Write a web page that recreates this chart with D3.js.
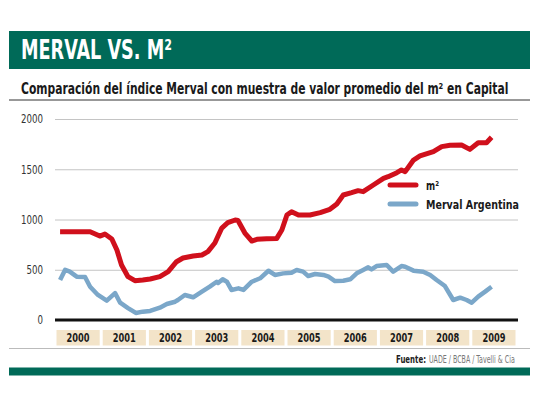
<!DOCTYPE html>
<html lang="es">
<head>
    <meta charset="UTF-8">
    <title>Merval vs. m2</title>
    <style>
        body { margin: 0; background: #fff; }
        text { font-family: "DejaVu Sans Condensed", "DejaVu Sans", "Liberation Sans", sans-serif; font-stretch: condensed; }
    </style>
</head>
<body>
<svg></svg>
<script src="https://d3js.org/d3.v7.min.js"></script>
<script>
    // datos (fecha en año decimal)
    var m2Fechas = [2000.11, 2000.76, 2000.97, 2001.08, 2001.23, 2001.34, 2001.44, 2001.58, 2001.73, 2001.90,
        2002.06, 2002.27, 2002.45, 2002.63, 2002.77, 2002.99, 2003.18, 2003.31, 2003.46, 2003.61,
        2003.74, 2003.90, 2003.96, 2004.11, 2004.26, 2004.37, 2004.58, 2004.80, 2004.91, 2005.02,
        2005.12, 2005.27, 2005.52, 2005.74, 2005.95, 2006.10, 2006.24, 2006.42, 2006.56, 2006.67,
        2006.89, 2007.11, 2007.21, 2007.40, 2007.50, 2007.58, 2007.76, 2007.90, 2008.19, 2008.37,
        2008.55, 2008.80, 2008.98, 2009.16, 2009.34, 2009.45];
    var m2Valores = [879, 879, 835, 855, 806, 697, 547, 431, 391, 398,
        408, 431, 481, 580, 617, 637, 647, 680, 766, 915,
        968, 995, 990, 865, 786, 803, 809, 812, 895, 1045,
        1078, 1045, 1045, 1068, 1101, 1154, 1244, 1267, 1287, 1277,
        1343, 1410, 1426, 1466, 1493, 1476, 1592, 1632, 1675, 1725,
        1738, 1741, 1698, 1764, 1764, 1818];

    var mervalFechas = [2000.11, 2000.22, 2000.32, 2000.47, 2000.65, 2000.76, 2000.93, 2001.12, 2001.30, 2001.41,
        2001.58, 2001.75, 2001.90, 2002.06, 2002.27, 2002.42, 2002.60, 2002.66, 2002.81, 2002.99,
        2003.18, 2003.35, 2003.50, 2003.53, 2003.63, 2003.72, 2003.82, 2003.97, 2004.08, 2004.26,
        2004.44, 2004.62, 2004.76, 2004.94, 2005.12, 2005.23, 2005.37, 2005.48, 2005.63, 2005.81,
        2005.92, 2006.06, 2006.24, 2006.39, 2006.53, 2006.67, 2006.78, 2006.85, 2006.96, 2007.18,
        2007.32, 2007.50, 2007.58, 2007.76, 2007.97, 2008.12, 2008.26, 2008.44, 2008.62, 2008.77,
        2008.91, 2009.02, 2009.16, 2009.31, 2009.45];
    var mervalValores = [398, 500, 481, 431, 428, 331, 249, 192, 268, 172,
        119, 70, 83, 90, 123, 159, 182, 199, 249, 226,
        282, 332, 381, 368, 405, 381, 299, 315, 299, 381,
        415, 490, 448, 464, 471, 497, 481, 438, 458, 448,
        431, 388, 391, 405, 464, 497, 524, 504, 537, 547,
        481, 537, 530, 491, 481, 448, 398, 338, 199, 222,
        199, 172, 232, 282, 331];

    var anios = [2000, 2001, 2002, 2003, 2004, 2005, 2006, 2007, 2008, 2009];
    var yTicks = [0, 500, 1000, 1500, 2000];

    var width = 540;
    var height = 405;
    var plotLeft = 55, plotRight = 517, plotTop = 119, plotBottom = 320;

    var verde = "#006a58";
    var rojo = "#d0101c";
    var azul = "#7ba7c9";

    var xScale = d3.scaleLinear().domain([2000, 2010]).range([plotLeft, plotRight]);
    var yScale = d3.scaleLinear().domain([0, 2000]).range([plotBottom, plotTop]);

    var svg = d3.select("svg")
        .attr("width", width)
        .attr("height", height);

    // estrecha un texto a un ancho dado (la fuente del original es condensada)
    function ajustar(t, x, y, ancho) {
        var largo = t.node().getComputedTextLength();
        var sx = largo > 0 ? ancho / largo : 1;
        t.attr("transform", "translate(" + x + "," + y + ") scale(" + sx + ",1)");
        return t;
    }

    // cabecera
    svg.append("rect")
        .attr("x", 9).attr("y", 31)
        .attr("width", 521).attr("height", 38)
        .style("fill", verde);
    ajustar(svg.append("text")
        .style("font-size", "27px")
        .style("font-weight", "bold")
        .style("fill", "#fff")
        .text("MERVAL VS. M²"), 21, 58.5, 151);

    ajustar(svg.append("text")
        .style("font-size", "15.5px")
        .style("font-weight", "bold")
        .style("fill", "#1a1a1a")
        .text("Comparación del índice Merval con muestra de valor promedio del m² en Capital"), 21, 94, 488);

    svg.append("line")
        .attr("x1", 9).attr("x2", 530)
        .attr("y1", 100).attr("y2", 100)
        .style("stroke", "#333").style("stroke-width", 1);

    // eje y y grilla
    var yAxis = d3.axisLeft(yScale)
        .tickValues(yTicks)
        .tickFormat(d3.format("d"))
        .tickSize(-(plotRight + 1 - plotLeft))
        .tickPadding(12);
    var gy = svg.append("g")
        .attr("transform", "translate(" + plotLeft + ",0)")
        .call(yAxis);
    gy.select(".domain").remove();
    gy.selectAll(".tick line")
        .style("stroke", "#c4c4c4")
        .style("stroke-width", 1);
    gy.selectAll(".tick text")
        .attr("textLength", function (d) { return String(d).length * 5.5; })
        .attr("lengthAdjust", "spacingAndGlyphs")
        .style("font-family", "'DejaVu Sans Condensed', 'DejaVu Sans', sans-serif")
        .style("font-size", "12px")
        .style("fill", "#333");

    // lineas
    var line = d3.line()
        .x(function (d) { return xScale(d[0]); })
        .y(function (d) { return yScale(d[1]); });

    var mervalDatos = d3.zip(mervalFechas, mervalValores);
    var m2Datos = d3.zip(m2Fechas, m2Valores);

    svg.append("path")
        .datum(mervalDatos)
        .attr("d", line)
        .style("fill", "none")
        .style("stroke", azul)
        .style("stroke-width", 4.5)
        .style("stroke-linejoin", "round");

    svg.append("path")
        .datum(m2Datos)
        .attr("d", line)
        .style("fill", "none")
        .style("stroke", rojo)
        .style("stroke-width", 5)
        .style("stroke-linejoin", "round");

    // linea base
    svg.append("line")
        .attr("x1", plotLeft).attr("x2", plotRight + 1)
        .attr("y1", yScale(0)).attr("y2", yScale(0))
        .style("stroke", "#111").style("stroke-width", 3);

    // cajas de años
    var gx = svg.append("g");
    gx.selectAll("rect")
        .data(anios)
        .enter().append("rect")
        .attr("x", function (d) { return xScale(d) + 1.5; })
        .attr("y", 330)
        .attr("width", function (d) { return xScale(d + 1) - xScale(d) - 3; })
        .attr("height", 15.5)
        .style("fill", "#f3e4c9");
    gx.selectAll("text")
        .data(anios)
        .enter().append("text")
        .attr("x", function (d) { return xScale(d + 0.5) - 11.5; })
        .attr("y", 342)
        .attr("textLength", 23)
        .attr("lengthAdjust", "spacingAndGlyphs")
        .style("font-size", "13px")
        .style("font-weight", "bold")
        .style("fill", "#1a1a1a")
        .text(function (d) { return d; });

    // leyenda
    var leyenda = [
        {nombre: "m²", color: rojo, y: 185, ancho: 13},
        {nombre: "Merval Argentina", color: azul, y: 204, ancho: 93}
    ];
    var gl = svg.append("g");
    leyenda.forEach(function (l) {
        gl.append("line")
            .attr("x1", 390).attr("x2", 416)
            .attr("y1", l.y).attr("y2", l.y)
            .style("stroke", l.color)
            .style("stroke-width", 5)
            .style("stroke-linecap", "round");
        ajustar(gl.append("text")
            .style("font-size", "13px")
            .style("font-weight", "bold")
            .style("fill", "#1a1a1a")
            .text(l.nombre), 426, l.y + 4.5, l.ancho);
    });

    // pie
    svg.append("line")
        .attr("x1", 9).attr("x2", 530)
        .attr("y1", 348.5).attr("y2", 348.5)
        .style("stroke", "#bbb").style("stroke-width", 1);
    ajustar(svg.append("text")
        .style("font-size", "10px")
        .style("font-weight", "bold")
        .style("fill", "#222")
        .text("Fuente:"), 396, 363, 30);
    ajustar(svg.append("text")
        .style("font-size", "10px")
        .style("fill", "#777")
        .text("UADE / BCBA / Tavelli & Cia"), 429, 363, 86);

    svg.append("rect")
        .attr("x", 9).attr("y", 367.5)
        .attr("width", 521).attr("height", 8)
        .style("fill", verde);
</script>
</body>
</html>
